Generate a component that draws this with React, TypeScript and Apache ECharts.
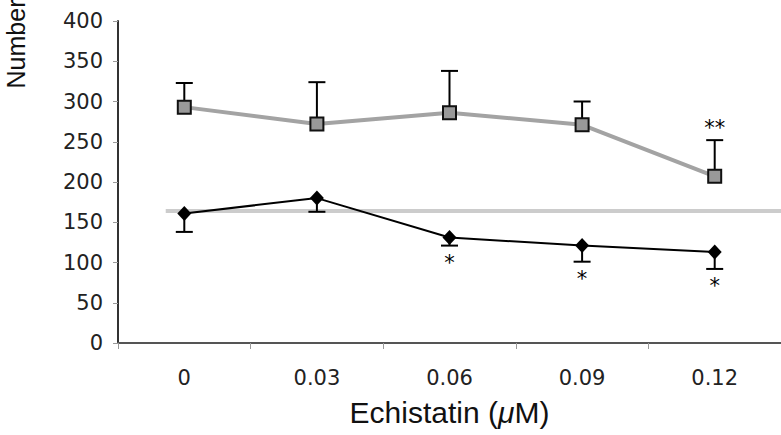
import React, { useEffect, useRef } from "react";
import * as echarts from "echarts";

const categories = ["0", "0.03", "0.06", "0.09", "0.12"];
const grayValues = [293, 272, 286, 271, 207];
const grayErrUp = [30, 52, 52, 29, 45];
const graySig = ["", "", "", "", "**"];
const blackValues = [161, 180, 131, 121, 113];
const blackErrDown = [23, 17, 10, 20, 21];
const blackSig = ["", "", "*", "*", "*"];
const baselineValue = 164;
const baselineStart = -0.14;
const baselineEnd = 4.6;
const yTicks = { min: 0, max: 400, interval: 50 };

const TICK_FONT = "'DejaVu Sans', Verdana, sans-serif";
const TITLE_FONT = "'Liberation Sans', Arial, Helvetica, sans-serif";

function errorSeries(values: number[], errs: number[], sig: string[], dir: number) {
  return {
    type: "custom",
    xAxisIndex: 0,
    yAxisIndex: 0,
    z: 3,
    silent: true,
    data: values.map((v, i) => [i, v, errs[i]]),
    renderItem: (params: any, api: any) => {
      const x = api.value(0);
      const v = api.value(1);
      const e = api.value(2);
      const s = sig[params.dataIndex];
      const p0 = api.coord([x, v]);
      const p1 = api.coord([x, v + dir * e]);
      const half = 8.5;
      const children: any[] = [
        {
          type: "line",
          shape: { x1: p0[0], y1: p0[1], x2: p1[0], y2: p1[1] },
          style: { stroke: "#000", lineWidth: 2 },
        },
        {
          type: "line",
          shape: { x1: p1[0] - half, y1: p1[1], x2: p1[0] + half, y2: p1[1] },
          style: { stroke: "#000", lineWidth: 2 },
        },
      ];
      if (s) {
        children.push({
          type: "text",
          x: p1[0],
          y: p1[1] + (dir < 0 ? 17 : -12),
          style: {
            text: s,
            fill: "#000",
            font: `21px ${TICK_FONT}`,
            textAlign: "center",
            textVerticalAlign: "middle",
          },
        });
      }
      return { type: "group", children };
    },
  };
}

export default function App() {
  const ref = useRef<HTMLDivElement>(null);
  useEffect(() => {
    if (!ref.current) return;
    const chart = echarts.init(ref.current, null, { renderer: "svg" });
    chart.setOption({
      animation: false,
      backgroundColor: "#fff",
      textStyle: { fontFamily: TICK_FONT },
      grid: { left: 118, right: -2, top: 21, bottom: 92, containLabel: false },
      xAxis: [
        {
          type: "category",
          data: categories,
          boundaryGap: true,
          name: "Echistatin ({i|\u03bc}M)",
          nameLocation: "middle",
          nameGap: 54,
          nameTextStyle: {
            fontSize: 30,
            color: "#111",
            fontFamily: TITLE_FONT,
            rich: {
              i: { fontSize: 30, fontStyle: "italic", color: "#111", fontFamily: TITLE_FONT },
            },
          },
          axisLine: { show: true, onZero: false, lineStyle: { color: "#555", width: 2 } },
          axisTick: { show: true, length: 6, lineStyle: { color: "#999", width: 1 } },
          axisLabel: { fontSize: 21, color: "#222", margin: 24, fontFamily: TICK_FONT },
          splitLine: { show: false },
        },
        {
          type: "value",
          min: -0.5,
          max: 4.5,
          show: false,
        },
      ],
      yAxis: {
        type: "value",
        min: yTicks.min,
        max: yTicks.max,
        interval: yTicks.interval,
        axisLine: { show: true, onZero: false, lineStyle: { color: "#333", width: 2 } },
        axisTick: { show: true, length: 5, lineStyle: { color: "#999", width: 1 } },
        axisLabel: { fontSize: 21, color: "#222", margin: 15, fontFamily: TICK_FONT },
        splitLine: { show: false },
      },
      graphic: [
        {
          type: "text",
          x: 16,
          y: 44,
          rotation: Math.PI / 2,
          style: {
            text: "Number",
            fill: "#111",
            font: `25px ${TITLE_FONT}`,
            textAlign: "center",
            textVerticalAlign: "middle",
          },
        },
      ],
      series: [
        {
          type: "line",
          xAxisIndex: 1,
          yAxisIndex: 0,
          z: 1,
          symbol: "none",
          silent: true,
          lineStyle: { color: "#cccccc", width: 4 },
          data: [
            [baselineStart, baselineValue],
            [baselineEnd, baselineValue],
          ],
        },
        errorSeries(grayValues, grayErrUp, graySig, 1),
        errorSeries(blackValues, blackErrDown, blackSig, -1),
        {
          type: "line",
          xAxisIndex: 0,
          yAxisIndex: 0,
          z: 4,
          data: grayValues,
          symbol: "rect",
          symbolSize: 13,
          lineStyle: { color: "#a3a3a3", width: 4 },
          itemStyle: { color: "#999", borderColor: "#111", borderWidth: 2 },
        },
        {
          type: "line",
          xAxisIndex: 0,
          yAxisIndex: 0,
          z: 4,
          data: blackValues,
          symbol: "diamond",
          symbolSize: [14, 15],
          lineStyle: { color: "#000", width: 2 },
          itemStyle: { color: "#000" },
        },
      ],
    });
    return () => chart.dispose();
  }, []);
  return (
    <div
      ref={ref}
      style={{ position: "fixed", left: 0, top: 0, width: 781, height: 435 }}
    />
  );
}
